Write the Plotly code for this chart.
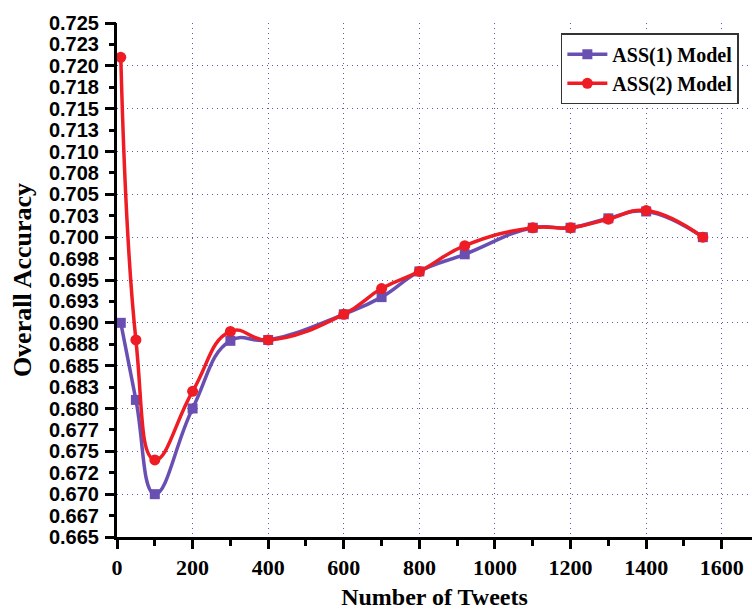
import plotly.graph_objects as go

# ---- data ----
tweets = [10, 50, 100, 200, 300, 400, 600, 700, 800, 920, 1100, 1200, 1300, 1400, 1550]
ass1 = [0.6900, 0.6810, 0.6700, 0.6800, 0.6879, 0.6880, 0.6910, 0.6930, 0.6960, 0.6980, 0.7011, 0.7011, 0.7022, 0.7030, 0.7000]
ass2 = [0.7210, 0.6880, 0.6740, 0.6820, 0.6890, 0.6880, 0.6910, 0.6940, 0.6960, 0.6990, 0.7011, 0.7011, 0.7021, 0.7031, 0.7000]

y_tickvals = [0.665 + 0.0025 * i for i in range(25)]
y_ticktext = ["0.665", "0.667", "0.670", "0.672", "0.675", "0.677", "0.680", "0.683",
              "0.685", "0.688", "0.690", "0.693", "0.695", "0.698", "0.700", "0.703",
              "0.705", "0.708", "0.710", "0.713", "0.715", "0.718", "0.720", "0.723", "0.725"]
y_major = [0.665 + 0.005 * i for i in range(13)]
x_tickvals = [0, 200, 400, 600, 800, 1000, 1200, 1400, 1600]

PURPLE = "#6a4fb3"
RED = "#ee1c24"
GRID = "#5a5ab8"
serif = "Liberation Serif"
sans = "Liberation Sans"

fig = go.Figure()
fig.add_trace(go.Scatter(
    x=tweets, y=ass1, name="<b>ASS(1) Model</b>", mode="lines+markers",
    line=dict(color=PURPLE, width=3.5, shape="spline", smoothing=1.3),
    marker=dict(symbol="square", size=10, color=PURPLE),
    yaxis="y",
))
fig.add_trace(go.Scatter(
    x=tweets, y=ass2, name="<b>ASS(2) Model</b>", mode="lines+markers",
    line=dict(color=RED, width=3.5, shape="spline", smoothing=1.3),
    marker=dict(symbol="circle", size=11, color=RED),
    yaxis="y2",
))

yr = [0.665, 0.725]
fig.update_layout(
    width=752, height=610,
    margin=dict(l=117, r=0, t=23, b=73),
    paper_bgcolor="white", plot_bgcolor="white",
    showlegend=True,
    legend=dict(
        x=0.699, y=0.98, xanchor="left", yanchor="top",
        bgcolor="white", bordercolor="#333333", borderwidth=1.5,
        font=dict(family=serif, size=20, color="black"),
        itemwidth=40, tracegroupgap=0,
    ),
    xaxis=dict(
        range=[0, 1680], tickvals=x_tickvals, ticktext=["<b>%d</b>" % v for v in x_tickvals],
        ticks="outside", ticklen=9, tickwidth=3, tickcolor="black",
        minor=dict(dtick=100, tick0=0, ticks="outside", ticklen=6, tickwidth=3, tickcolor="black", showgrid=False),
        showline=True, linewidth=3, linecolor="black",
        showgrid=True, gridcolor=GRID, griddash="1px,4px", gridwidth=1,
        zeroline=False,
        tickfont=dict(family=serif, size=22, color="black"),
        title=dict(text="<b>Number of Tweets</b>", font=dict(family=serif, size=24, color="black"), standoff=13),
        automargin=False,
    ),
    yaxis=dict(
        range=yr, tickvals=y_tickvals, ticktext=["<b>%s</b>" % t for t in y_ticktext],
        ticks="outside", ticklen=5, tickwidth=3, tickcolor="black",
        ticklabelstandoff=6,
        showline=True, linewidth=3, linecolor="black",
        showgrid=False, zeroline=False,
        tickfont=dict(family=sans, size=20, color="black"),
        title=dict(text="<b>Overall Accuracy</b>", font=dict(family=serif, size=26, color="black"), standoff=10),
        automargin=False,
    ),
    yaxis2=dict(
        range=yr, overlaying="y", side="left", matches="y",
        tickvals=y_major, showticklabels=False,
        ticks="outside", ticklen=11, tickwidth=3, tickcolor="black",
        showline=False, zeroline=False,
        showgrid=True, gridcolor=GRID, griddash="1px,4px", gridwidth=1,
        automargin=False,
    ),
)

fig.write_html("out.html", config={"displayModeBar": False},
               post_script="document.body.style.margin='0px';")
